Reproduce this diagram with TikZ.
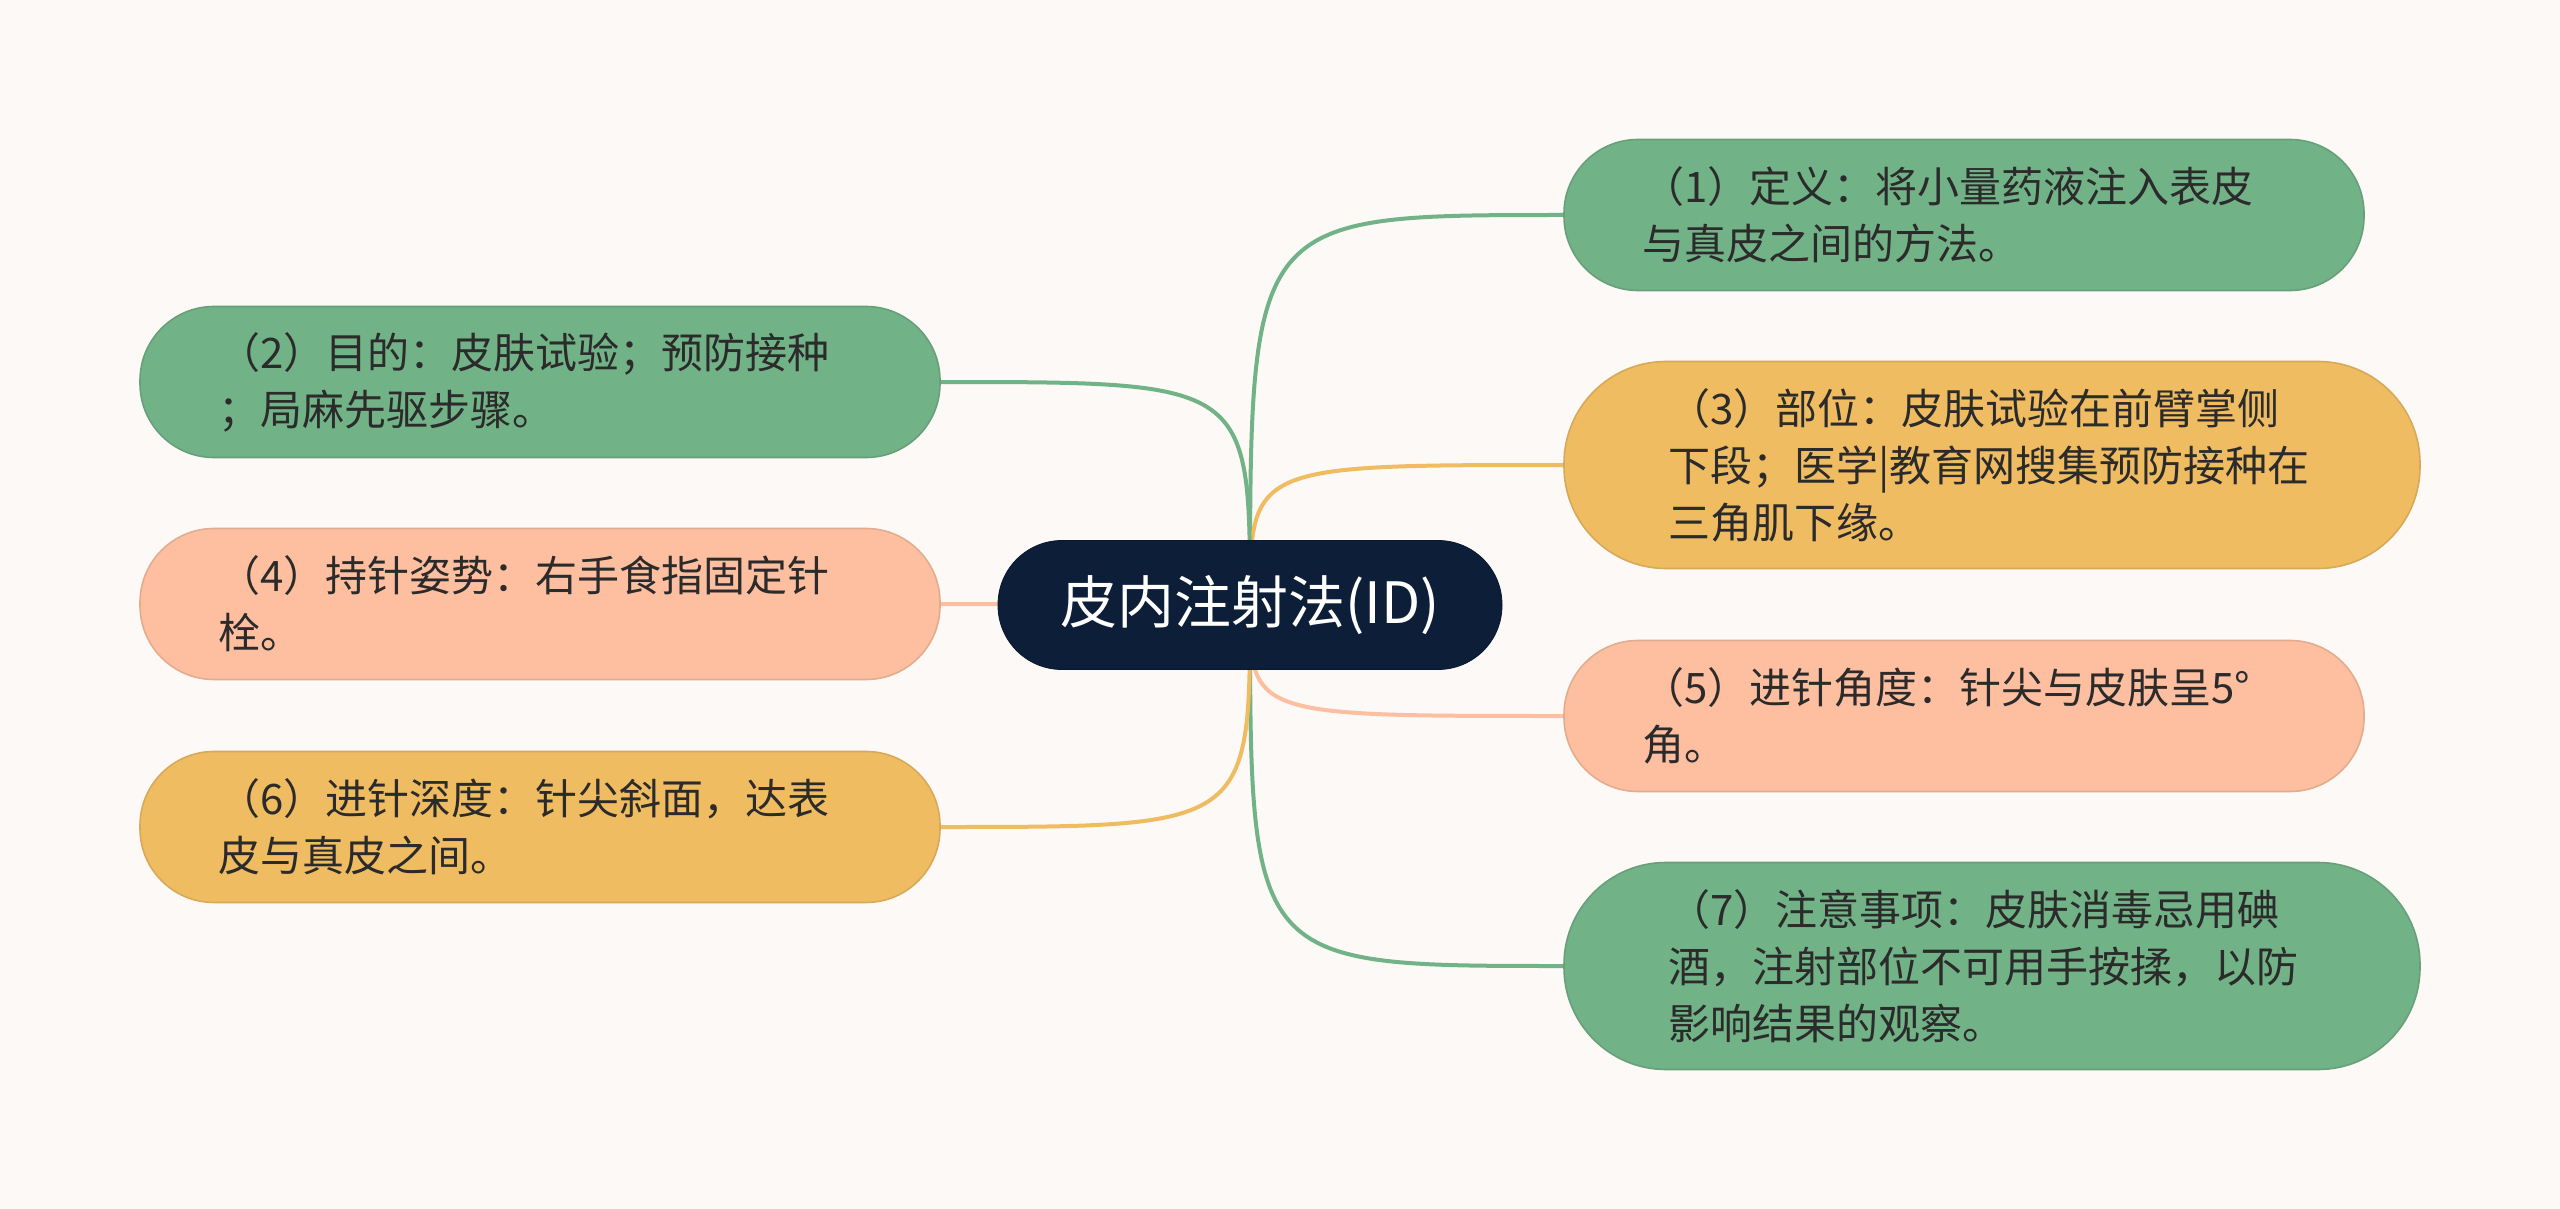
\documentclass[tikz,border=0pt]{standalone}
\usepackage{fontspec}
\setmainfont{Noto Sans CJK SC}
\usetikzlibrary{backgrounds}
\definecolor{mapInk}{HTML}{2B2B2B}
\definecolor{mapNavy}{HTML}{0D1E38}
\definecolor{mapGreen}{HTML}{72B287}
\definecolor{mapYellow}{HTML}{EFBC62}
\definecolor{mapSalmon}{HTML}{FDBF9F}
\definecolor{mapPaper}{HTML}{FCF9F7}
\tikzset{
  map root/.style={fill=mapNavy, draw=mapNavy!80!black, text=white,
    font=\fontsize{28.5}{34}\selectfont, minimum width=252pt,
    minimum height=64.5pt, rounded corners=32pt, inner sep=0pt},
  map leaf/.style={text=mapInk, font=\fontsize{21}{28.5}\selectfont,
    align=left, text width=322pt, inner xsep=39pt, inner ysep=0pt,
    minimum height=75.5pt, rounded corners=37pt, line width=0.8pt},
  map wide/.style={map leaf, text width=324pt, inner xsep=52pt,
    minimum height=103.5pt, rounded corners=51pt},
  map green/.style={fill=mapGreen, draw=mapGreen!90!black},
  map yellow/.style={fill=mapYellow, draw=mapYellow!90!black},
  map salmon/.style={fill=mapSalmon, draw=mapSalmon!90!black},
  map link/.style={line width=2pt}
}
\begin{document}
\begin{tikzpicture}[x=0.5pt,y=-0.5pt]
  \useasboundingbox (0,0) rectangle (2560,1209);
  \node[map root] (root) at (1250,605) {皮内注射法(ID)};
  % right side
  \node[map leaf, map green] (def) at (1964,215)
    {（1）定义：将小量药液注入表皮\\与真皮之间的方法。};
  \node[map wide, map yellow] (site) at (1992,465)
    {（3）部位：皮肤试验在前臂掌侧\\下段；医学|教育网搜集预防接种在\\三角肌下缘。};
  \node[map leaf, map salmon] (angle) at (1964,716)
    {（5）进针角度：针尖与皮肤呈5°\\角。};
  \node[map wide, map green] (note) at (1992,966)
    {（7）注意事项：皮肤消毒忌用碘\\酒，注射部位不可用手按揉，以防\\影响结果的观察。};
  % left side
  \node[map leaf, map green] (aim) at (540,382)
    {（2）目的：皮肤试验；预防接种\\；局麻先驱步骤。};
  \node[map leaf, map salmon] (hold) at (540,604)
    {（4）持针姿势：右手食指固定针\\栓。};
  \node[map leaf, map yellow] (depth) at (540,827)
    {（6）进针深度：针尖斜面，达表\\皮与真皮之间。};
  \begin{pgfonlayer}{background}
    \fill[mapPaper] (0,0) rectangle (2560,1209);
    \foreach \leaf/\col in {def/mapGreen, site/mapYellow, angle/mapSalmon, note/mapGreen}
      \draw[map link, \col] (root.center) .. controls (root.center |- \leaf.west) .. (\leaf.west);
    \foreach \leaf/\col in {aim/mapGreen, depth/mapYellow}
      \draw[map link, \col] (root.center) .. controls (root.center |- \leaf.east) .. (\leaf.east);
    \draw[map link, mapSalmon] (root.center) -- (hold.east);
  \end{pgfonlayer}
\end{tikzpicture}
\end{document}
